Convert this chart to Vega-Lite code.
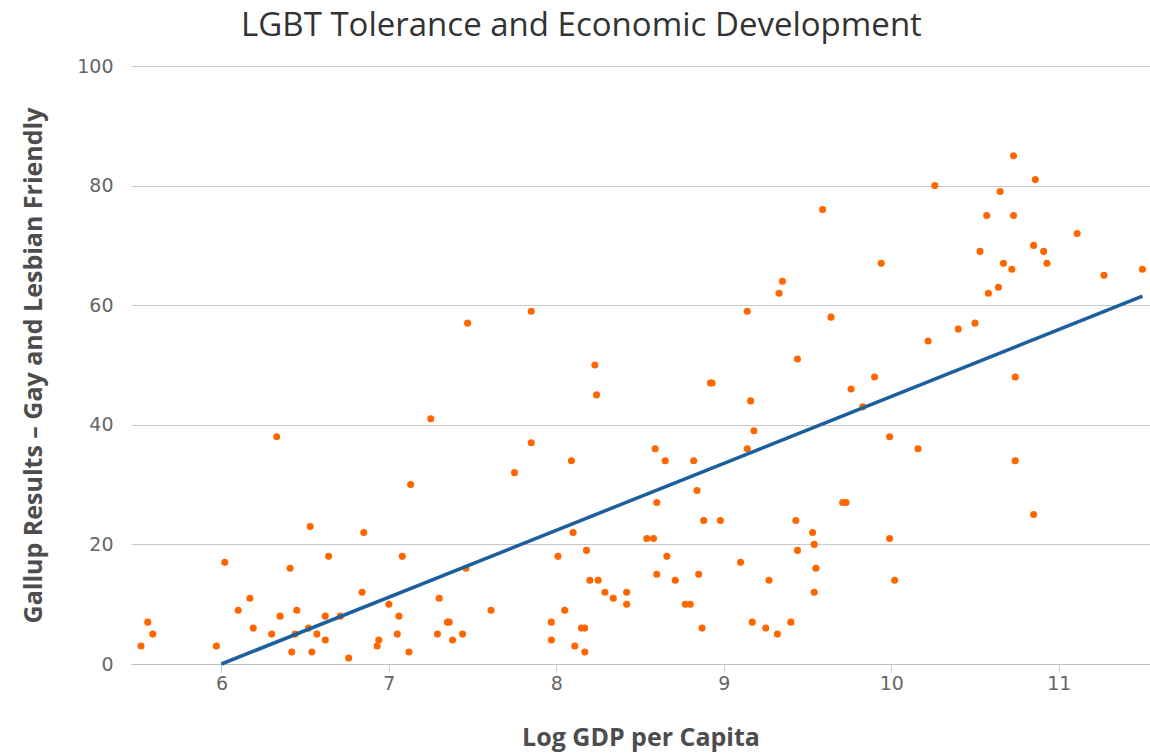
{
  "$schema": "https://vega.github.io/schema/vega-lite/v6.json",
  "autosize": {"type": "none"},
  "padding": {"left": 131, "top": 66, "right": 0, "bottom": 89},
  "width": 1019,
  "height": 598,
  "background": "white",
  "config": {"view": {"stroke": null}},
  "title": {
    "text": "LGBT Tolerance and Economic Development",
    "font": "Open Sans",
    "fontSize": 33,
    "fontWeight": "normal",
    "color": "#333333",
    "anchor": "middle",
    "frame": "group",
    "dx": -59,
    "offset": 14
  },
  "datasets": {
    "pts": [
      {"gdp": 7.25, "score": 41}, {"gdp": 6.33, "score": 38}, {"gdp": 7.13, "score": 30}, {"gdp": 6.53, "score": 23},
      {"gdp": 6.85, "score": 22}, {"gdp": 6.02, "score": 17}, {"gdp": 6.64, "score": 18}, {"gdp": 7.08, "score": 18},
      {"gdp": 6.41, "score": 16}, {"gdp": 7.46, "score": 16}, {"gdp": 6.17, "score": 11}, {"gdp": 6.84, "score": 12},
      {"gdp": 7.30, "score": 11}, {"gdp": 6.10, "score": 9}, {"gdp": 6.45, "score": 9}, {"gdp": 7.00, "score": 10},
      {"gdp": 5.56, "score": 7}, {"gdp": 6.35, "score": 8}, {"gdp": 6.62, "score": 8}, {"gdp": 6.71, "score": 8},
      {"gdp": 7.06, "score": 8}, {"gdp": 7.35, "score": 7}, {"gdp": 7.36, "score": 7}, {"gdp": 5.59, "score": 5},
      {"gdp": 6.19, "score": 6}, {"gdp": 6.52, "score": 6}, {"gdp": 6.57, "score": 5}, {"gdp": 6.44, "score": 5},
      {"gdp": 6.30, "score": 5}, {"gdp": 7.05, "score": 5}, {"gdp": 7.29, "score": 5}, {"gdp": 7.44, "score": 5},
      {"gdp": 6.62, "score": 4}, {"gdp": 6.94, "score": 4}, {"gdp": 6.93, "score": 3}, {"gdp": 7.38, "score": 4},
      {"gdp": 5.52, "score": 3}, {"gdp": 5.97, "score": 3}, {"gdp": 6.42, "score": 2}, {"gdp": 6.54, "score": 2},
      {"gdp": 7.12, "score": 2}, {"gdp": 6.76, "score": 1},
      {"gdp": 7.47, "score": 57}, {"gdp": 7.85, "score": 59}, {"gdp": 9.35, "score": 64}, {"gdp": 9.33, "score": 62},
      {"gdp": 9.14, "score": 59}, {"gdp": 9.44, "score": 51}, {"gdp": 8.23, "score": 50}, {"gdp": 8.24, "score": 45},
      {"gdp": 8.92, "score": 47}, {"gdp": 8.93, "score": 47}, {"gdp": 9.16, "score": 44}, {"gdp": 9.18, "score": 39},
      {"gdp": 9.14, "score": 36}, {"gdp": 7.85, "score": 37}, {"gdp": 7.75, "score": 32}, {"gdp": 8.09, "score": 34},
      {"gdp": 8.59, "score": 36}, {"gdp": 8.65, "score": 34}, {"gdp": 8.82, "score": 34}, {"gdp": 8.84, "score": 29},
      {"gdp": 8.60, "score": 27}, {"gdp": 8.88, "score": 24}, {"gdp": 8.98, "score": 24}, {"gdp": 9.43, "score": 24},
      {"gdp": 8.10, "score": 22}, {"gdp": 8.54, "score": 21}, {"gdp": 8.58, "score": 21}, {"gdp": 9.44, "score": 19},
      {"gdp": 8.01, "score": 18}, {"gdp": 8.18, "score": 19}, {"gdp": 8.66, "score": 18}, {"gdp": 9.10, "score": 17},
      {"gdp": 8.60, "score": 15}, {"gdp": 8.85, "score": 15}, {"gdp": 8.20, "score": 14}, {"gdp": 8.25, "score": 14},
      {"gdp": 8.71, "score": 14}, {"gdp": 9.27, "score": 14}, {"gdp": 8.29, "score": 12}, {"gdp": 8.42, "score": 12},
      {"gdp": 8.34, "score": 11}, {"gdp": 8.42, "score": 10}, {"gdp": 8.77, "score": 10}, {"gdp": 8.80, "score": 10},
      {"gdp": 7.61, "score": 9}, {"gdp": 8.05, "score": 9}, {"gdp": 7.97, "score": 7}, {"gdp": 9.17, "score": 7},
      {"gdp": 9.40, "score": 7}, {"gdp": 8.15, "score": 6}, {"gdp": 8.17, "score": 6}, {"gdp": 8.87, "score": 6},
      {"gdp": 9.25, "score": 6}, {"gdp": 9.32, "score": 5}, {"gdp": 7.97, "score": 4}, {"gdp": 8.11, "score": 3},
      {"gdp": 8.17, "score": 2},
      {"gdp": 10.73, "score": 85}, {"gdp": 10.26, "score": 80}, {"gdp": 10.86, "score": 81}, {"gdp": 10.65, "score": 79},
      {"gdp": 9.59, "score": 76}, {"gdp": 10.57, "score": 75}, {"gdp": 10.73, "score": 75}, {"gdp": 11.11, "score": 72},
      {"gdp": 10.85, "score": 70}, {"gdp": 10.53, "score": 69}, {"gdp": 10.91, "score": 69}, {"gdp": 10.67, "score": 67},
      {"gdp": 10.93, "score": 67}, {"gdp": 9.94, "score": 67}, {"gdp": 10.72, "score": 66}, {"gdp": 11.27, "score": 65},
      {"gdp": 11.50, "score": 66}, {"gdp": 10.64, "score": 63}, {"gdp": 10.58, "score": 62}, {"gdp": 9.64, "score": 58},
      {"gdp": 10.50, "score": 57}, {"gdp": 10.40, "score": 56}, {"gdp": 10.22, "score": 54}, {"gdp": 10.74, "score": 48},
      {"gdp": 9.90, "score": 48}, {"gdp": 9.76, "score": 46}, {"gdp": 9.83, "score": 43}, {"gdp": 9.99, "score": 38},
      {"gdp": 10.16, "score": 36}, {"gdp": 10.74, "score": 34}, {"gdp": 9.71, "score": 27}, {"gdp": 9.73, "score": 27},
      {"gdp": 10.85, "score": 25}, {"gdp": 9.53, "score": 22}, {"gdp": 9.54, "score": 20}, {"gdp": 9.99, "score": 21},
      {"gdp": 9.55, "score": 16}, {"gdp": 10.02, "score": 14}, {"gdp": 9.54, "score": 12}
    ],
    "fit": [
      {"gdp": 6.0, "score": 0},
      {"gdp": 11.5, "score": 61.5}
    ]
  },
  "layer": [
    {
      "data": {"name": "pts"},
      "mark": {"type": "point", "filled": true, "shape": "circle", "size": 50, "color": "#FF6600", "opacity": 1},
      "encoding": {
        "x": {
          "field": "gdp", "type": "quantitative",
          "scale": {"domain": [5.46, 11.545], "nice": false, "zero": false},
          "axis": {
            "title": "Log GDP per Capita",
            "values": [6, 7, 8, 9, 10, 11],
            "format": "d",
            "grid": false,
            "domainColor": "#C0C0C0",
            "domainWidth": 1,
            "tickColor": "#C0D0E0",
            "tickSize": 8,
            "labelFont": "DejaVu Sans",
            "labelFontSize": 19,
            "labelColor": "#666666",
            "labelPadding": 2,
            "titleFont": "Open Sans",
            "titleFontSize": 25,
            "titleFontWeight": "bold",
            "titleColor": "#4d4d4d",
            "titlePadding": 32
          }
        },
        "y": {
          "field": "score", "type": "quantitative",
          "scale": {"domain": [0, 100], "nice": false},
          "axis": {
            "title": "Gallup Results – Gay and Lesbian Friendly",
            "values": [0, 20, 40, 60, 80, 100],
            "domain": false,
            "ticks": false,
            "gridColor": "#C8C8C8",
            "gridWidth": 1,
            "labelFont": "DejaVu Sans",
            "labelFontSize": 19,
            "labelColor": "#666666",
            "labelPadding": 18,
            "titleFont": "Open Sans",
            "titleFontSize": 25,
            "titleFontWeight": "bold",
            "titleColor": "#4d4d4d",
            "titlePadding": 30
          }
        }
      }
    },
    {
      "data": {"name": "fit"},
      "mark": {"type": "line", "color": "#1b609e", "strokeWidth": 3.5},
      "encoding": {
        "x": {"field": "gdp", "type": "quantitative"},
        "y": {"field": "score", "type": "quantitative"}
      }
    }
  ]
}
